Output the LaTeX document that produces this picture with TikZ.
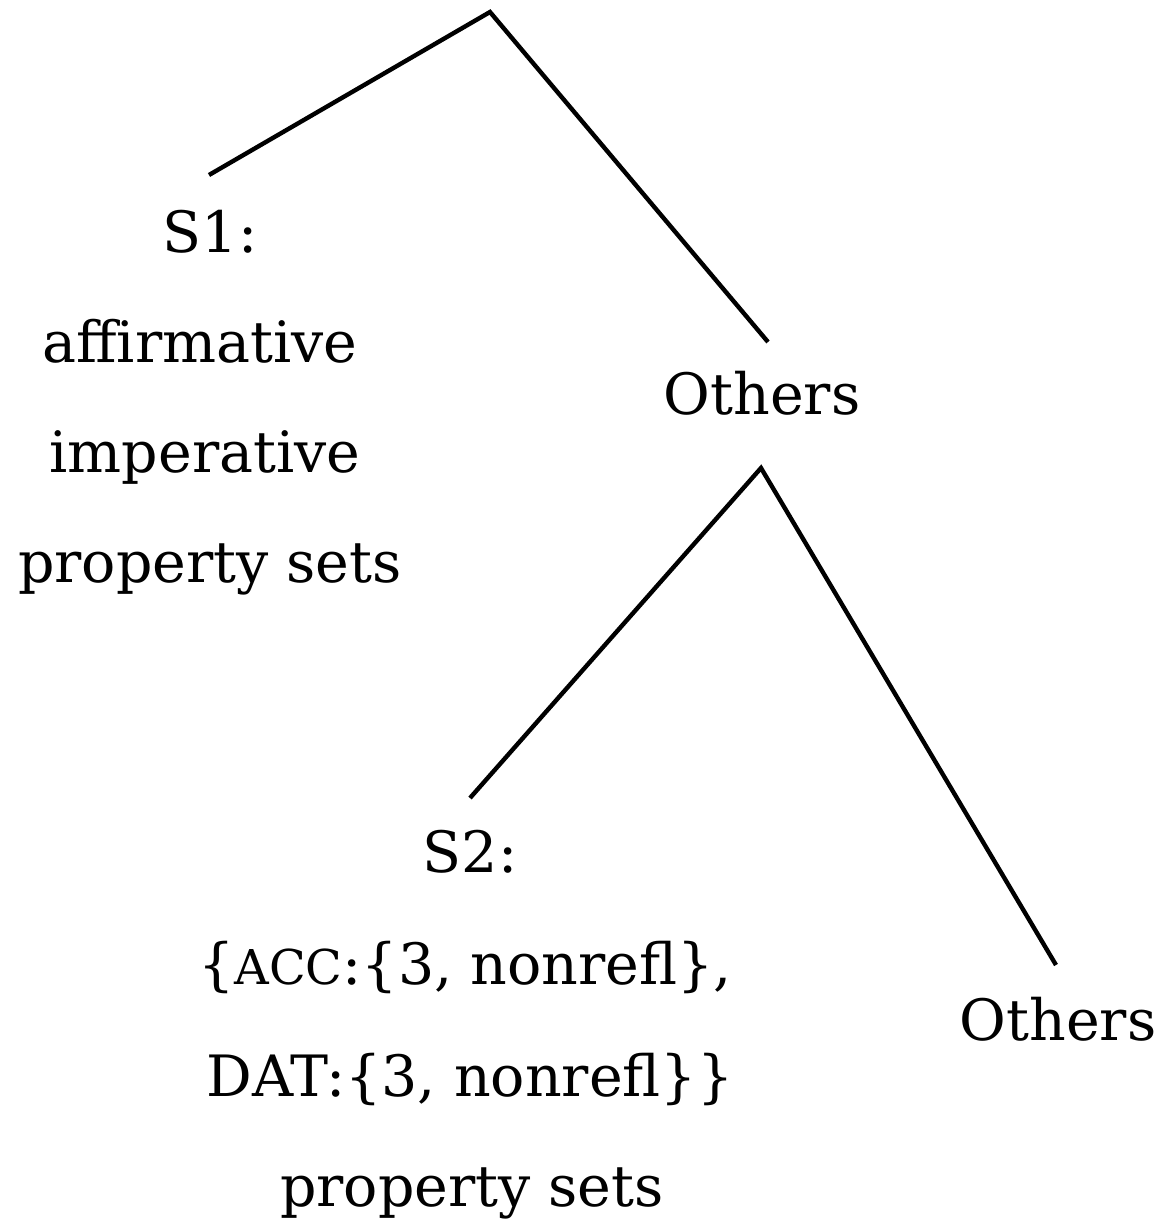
\documentclass[tikz,border=0pt]{standalone}
\usepackage{fontspec}
\setmainfont{DejaVu Serif}
\newcommand{\mysc}[1]{{\fontsize{48}{50}\selectfont #1}}
\begin{document}
\begin{tikzpicture}[x=1pt,y=-1pt,
  lab/.style={anchor=base,inner sep=0pt,font=\fontsize{57}{60}\selectfont},
  branch/.style={line width=4.4pt,line cap=butt,line join=miter}]
\useasboundingbox (0,0) rectangle (1161,1221);
% nodes
\coordinate (root) at (490,12);
\coordinate (s1end) at (209,175);
\coordinate (oth1end) at (768,342);
\coordinate (oth1top) at (761,468);
\coordinate (s2end) at (470,798);
\coordinate (oth2end) at (1056,965);
\node[lab] (s1) at (210,252) {S1:};
\node[lab] (s1b) at (200,362) {affirmative};
\node[lab] (s1c) at (205,472) {imperative};
\node[lab] (s1d) at (210,582) {property sets};
\node[lab] (oth1) at (762,414) {Others};
\node[lab] (s2) at (470,872) {S2:};
\node[lab] (s2b) at (465,984) {\{\mysc{ACC}:\{3, nonrefl\},};
\node[lab] (s2c) at (470,1096) {DAT:\{3, nonrefl\}\}};
\node[lab] (s2d) at (472,1206) {property sets};
\node[lab] (oth2) at (1058,1040) {Others};
% connectors
\draw[branch] (s1end) -- (root) -- (oth1end);
\draw[branch] (s2end) -- (oth1top) -- (oth2end);
\end{tikzpicture}
\end{document}
